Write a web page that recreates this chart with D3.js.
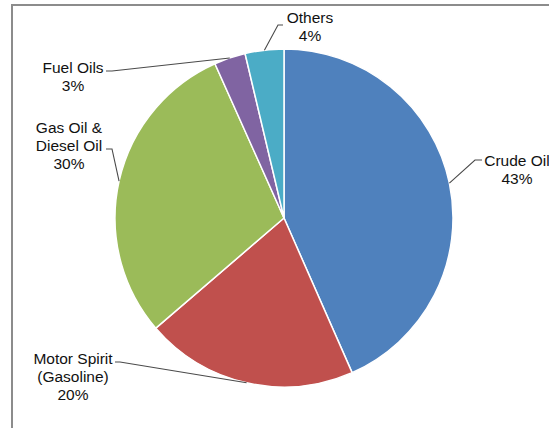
<!DOCTYPE html>
<html>
<head>
<meta charset="utf-8">
<script src="https://cdn.jsdelivr.net/npm/d3@7"></script>
<style>
  html, body { margin: 0; padding: 0; background: #fff; }
  svg { display: block; }
</style>
</head>
<body>
<svg id="chart" width="549" height="428"></svg>
<script>
// ---- data ----
const categories = ["Crude Oil", "Motor Spirit (Gasoline)", "Gas Oil & Diesel Oil", "Fuel Oils", "Others"];
const labelLines = [["Crude Oil"], ["Motor Spirit", "(Gasoline)"], ["Gas Oil &", "Diesel Oil"], ["Fuel Oils"], ["Others"]];
const values = [43.4, 20.3, 29.6, 3.0, 3.7];
const colors = ["#4F81BD", "#C0504D", "#9BBB59", "#8064A2", "#4BACC6"];

// ---- layout (label anchors: text centre x, first baseline y, elbow, end of leader) ----
const labelLayout = [
  { x: 517, y: 165.5, elbow: [475, 160], end: [482, 160] },
  { x: 73,  y: 363.5, elbow: [120, 362], end: [115, 362] },
  { x: 69,  y: 132.5, elbow: [112, 149], end: [106, 149] },
  { x: 73,  y: 72.5,  elbow: [112, 71],  end: [106, 71] },
  { x: 310, y: 23,    elbow: [278, 25],  end: [283, 25] }
];

const svg = d3.select("#chart");
const W = 549, H = 428;
const cx = 284, cy = 218, R = 169;

// frame
svg.append("path")
  .attr("d", `M12,${H + 2} L12,5 L${W + 2},5`)
  .attr("fill", "none")
  .attr("stroke", "#8c8c8c")
  .attr("stroke-width", 2);

const total = d3.sum(values);
const pie = d3.pie().sort(null).value(d => d)(values);
const arc = d3.arc().innerRadius(0).outerRadius(R);

const g = svg.append("g").attr("transform", `translate(${cx},${cy})`);

g.selectAll("path.slice")
  .data(pie)
  .join("path")
  .attr("class", "slice")
  .attr("d", arc)
  .attr("fill", (d, i) => colors[i])
  .attr("stroke", "#fff")
  .attr("stroke-width", 1.5)
  .attr("stroke-linejoin", "round");

// leader lines
const line = d3.line();
pie.forEach((d, i) => {
  const a = (d.startAngle + d.endAngle) / 2;
  const p = [cx + R * Math.sin(a), cy - R * Math.cos(a)];
  const L = labelLayout[i];
  svg.append("path")
    .attr("d", line([p, L.elbow, L.end]))
    .attr("fill", "none")
    .attr("stroke", "#4a4a4a")
    .attr("stroke-width", 1.1);
});

// labels
pie.forEach((d, i) => {
  const L = labelLayout[i];
  const lines = labelLines[i].concat([Math.round(values[i] / total * 100) + "%"]);
  const t = svg.append("text")
    .attr("text-anchor", "middle")
    .attr("font-family", "Liberation Sans, Arial, Helvetica, sans-serif")
    .attr("font-size", 15.5)
    .attr("fill", "#111");
  lines.forEach((s, k) => {
    t.append("tspan").attr("x", L.x).attr("y", L.y + k * 18).text(s);
  });
});
</script>
</body>
</html>
